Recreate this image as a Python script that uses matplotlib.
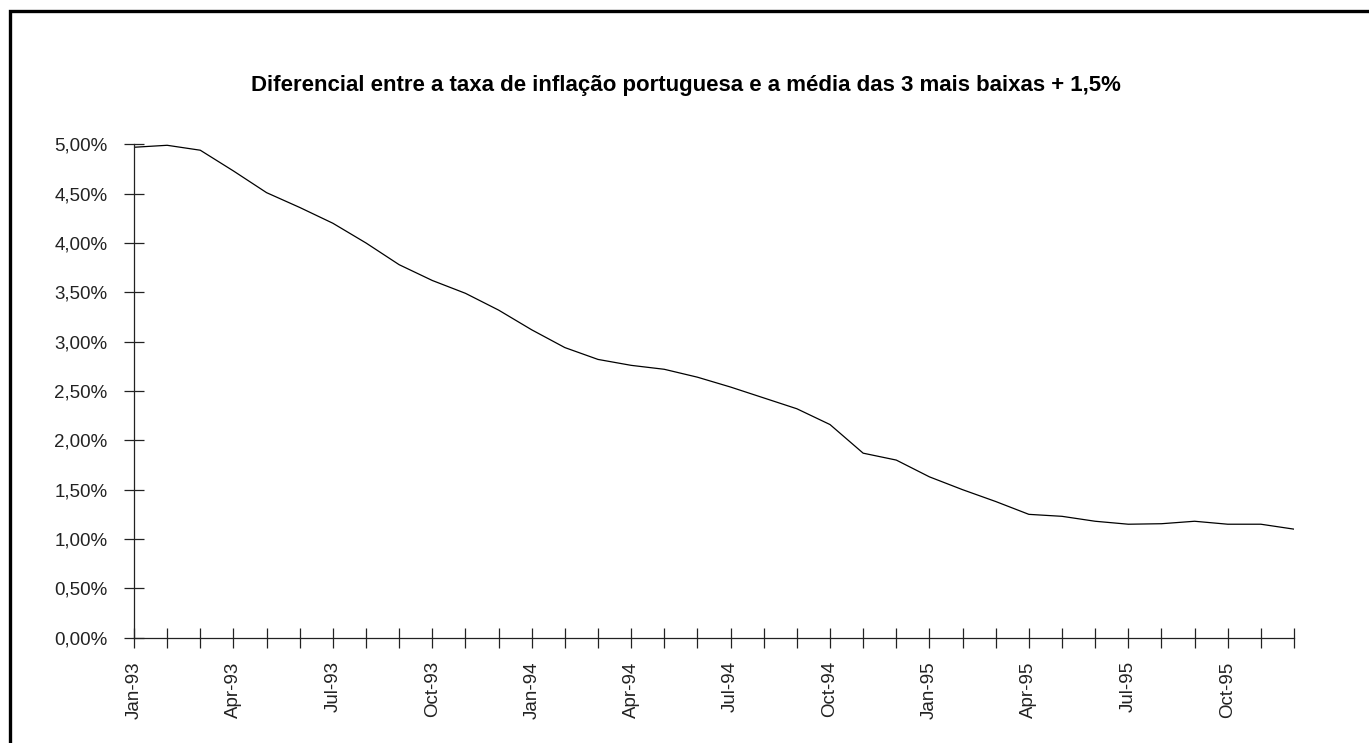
import matplotlib
matplotlib.use('Agg')
import matplotlib.pyplot as plt
from matplotlib.patches import Rectangle
from matplotlib.ticker import FuncFormatter, MultipleLocator

# monthly series, Jan-93 .. Dec-95 (values in %)
months = ['Jan', 'Feb', 'Mar', 'Apr', 'May', 'Jun',
          'Jul', 'Aug', 'Sep', 'Oct', 'Nov', 'Dec']
years = ['93', '94', '95']
differential = [4.97, 4.99, 4.94, 4.73, 4.51, 4.36, 4.20, 4.00, 3.78, 3.62,
                3.49, 3.32, 3.12, 2.94, 2.82, 2.76, 2.72, 2.64, 2.54, 2.43,
                2.32, 2.16, 1.87, 1.80, 1.63, 1.50, 1.38, 1.25, 1.23, 1.18,
                1.15, 1.155, 1.18, 1.15, 1.15, 1.10]
title = 'Diferencial entre a taxa de inflação portuguesa e a média das 3 mais baixas + 1,5%'

plt.rcParams['font.family'] = ['Liberation Sans', 'DejaVu Sans']

dates = ['%s-%s' % (m, y) for y in years for m in months]
x = list(range(len(differential)))

fig = plt.figure(figsize=(13.69, 7.43), dpi=100)
ax = fig.add_axes([134 / 1369, 1 - 637.7 / 743,
                   (1294 - 134) / 1369, (637.7 - 144.3) / 743])

ax.plot(x, differential, color='black', linewidth=0.9)

ax.set_xlim(0, len(differential) - 1)
ax.set_ylim(0, 5)
ax.yaxis.set_major_locator(MultipleLocator(0.5))
ax.yaxis.set_major_formatter(
    FuncFormatter(lambda v, pos: ('%.2f%%' % v).replace('.', ',')))

ax.set_xticks(x, minor=True)
ax.set_xticks(x[::3])
ax.set_xticklabels(dates[::3], rotation=90)

for side in ('top', 'right'):
    ax.spines[side].set_visible(False)
for side in ('left', 'bottom'):
    ax.spines[side].set_linewidth(0.9)
    ax.spines[side].set_color('#222222')

ax.tick_params(axis='both', which='both', direction='inout', length=14,
               width=0.9, color='#222222', labelsize=13.5, labelcolor='#222222')
ax.tick_params(axis='x', which='both', pad=10)
ax.tick_params(axis='y', pad=12)

fig.text(686 / 1369, 1 - 86 / 743, title, ha='center', va='center',
         fontsize=16, fontweight='bold')

# chart-area frame, open on the right and bottom edges
fig.add_artist(Rectangle((9.8 / 1369, -0.05), 1.1, 1 - 11.3 / 743 + 0.05,
                         transform=fig.transFigure, fill=False,
                         linewidth=2.4, edgecolor='black', clip_on=False))

fig.savefig('out.png', dpi=100)
